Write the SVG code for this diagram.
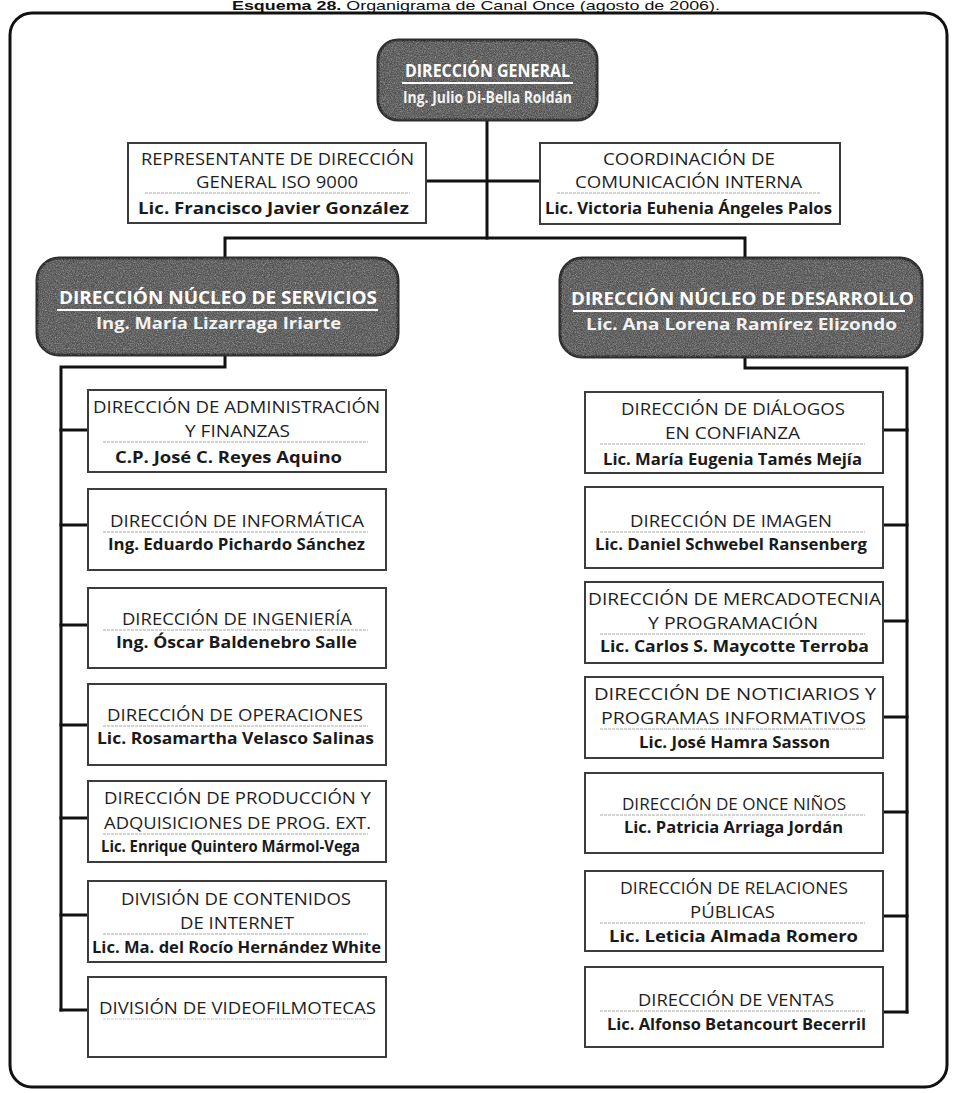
<svg xmlns="http://www.w3.org/2000/svg" width="953" height="1093" viewBox="0 0 953 1093">
  <style>
    .cap { font-family: "Liberation Sans", Arial, sans-serif; font-size: 13px; fill: #111; }
    .t { font-family: "Open Sans", "Liberation Sans", sans-serif; font-size: 16px; fill: #1e1e1e; text-anchor: middle; }
    .n { font-family: "Open Sans", "Liberation Sans", sans-serif; font-size: 16px; font-weight: 700; fill: #1a1a1a; text-anchor: middle; }
    .h { font-family: "Open Sans", "Liberation Sans", sans-serif; font-size: 18px; font-weight: 700; fill: #ffffff; text-anchor: middle; }
    .hs { font-family: "Open Sans", "Liberation Sans", sans-serif; font-size: 16px; font-weight: 700; fill: #f2f2f2; text-anchor: middle; }
    .box { fill: #ffffff; stroke: #3c3c3c; stroke-width: 2; }
    .sep { stroke: #a8a8a8; stroke-width: 1; stroke-dasharray: 3 1; fill: none; }
    .head { fill: #5e5e5e; stroke: #2e2e2e; stroke-width: 3; }
    .ul { stroke: #ffffff; stroke-width: 2; }
    .wire { fill: none; stroke: #111; stroke-width: 3; stroke-linejoin: miter; stroke-linecap: square; }
  </style>
  <defs>
    <!-- speckled texture laid over the dark header shapes -->
    <filter id="speckle" x="0" y="0" width="1" height="1">
      <feTurbulence type="fractalNoise" baseFrequency="0.85" numOctaves="3" seed="7" result="noise"/>
      <feColorMatrix in="noise" type="matrix" values="0 0 0 0 1  0 0 0 0 1  0 0 0 0 1  1.6 0 0 0 -0.6" result="spots"/>
      <feComposite in="spots" in2="SourceGraphic" operator="in"/>
    </filter>
    <filter id="specklek" x="0" y="0" width="1" height="1">
      <feTurbulence type="fractalNoise" baseFrequency="0.9" numOctaves="2" seed="21" result="noise"/>
      <feColorMatrix in="noise" type="matrix" values="0 0 0 0 0  0 0 0 0 0  0 0 0 0 0  1.6 0 0 0 -0.6" result="spots"/>
      <feComposite in="spots" in2="SourceGraphic" operator="in"/>
    </filter>
  </defs>

  <rect width="953" height="1093" fill="#ffffff"/>

  <!-- caption above the frame -->
  <text class="cap" x="476" y="10" text-anchor="middle" textLength="488" lengthAdjust="spacingAndGlyphs"><tspan font-weight="700">Esquema 28.</tspan> Organigrama de Canal Once (agosto de 2006).</text>

  <!-- outer frame -->
  <rect x="10" y="13" width="937" height="1074" rx="22" ry="22" fill="none" stroke="#111" stroke-width="3"/>

  <!-- connectors -->
  <g id="connectors">
    <path class="wire" d="M487 120 V238"/>
    <path class="wire" d="M426 181 H540"/>
    <path class="wire" d="M225 258 V238 H745 V258"/>
    <path class="wire" d="M225 355 V367 H61 V1010"/>
    <path class="wire" d="M61 430 H88 M61 525 H88 M61 625 H88 M61 725 H88 M61 818 H88 M61 915 H88 M61 1010 H88"/>
    <path class="wire" d="M745 357 V368 H907 V1012"/>
    <path class="wire" d="M883 430 H907 M883 525 H907 M883 621 H907 M883 717 H907 M883 812 H907 M883 916 H907 M883 1012 H907"/>
  </g>

  <!-- top node -->
  <g id="direccion-general">
    <rect class="head" x="378" y="40" width="219" height="80" rx="20"/>
    <rect x="378" y="40" width="219" height="80" rx="20" fill="#fff" opacity="0.45" filter="url(#speckle)"/>
    <rect x="378" y="40" width="219" height="80" rx="20" fill="#000" opacity="0.35" filter="url(#specklek)"/>
    <text class="h" x="487.5" y="77" textLength="165" lengthAdjust="spacingAndGlyphs">DIRECCIÓN GENERAL</text>
    <line class="ul" x1="402" y1="83" x2="573" y2="83"/>
    <text class="hs" x="487.5" y="103" textLength="169" lengthAdjust="spacingAndGlyphs">Ing. Julio Di-Bella Roldán</text>
  </g>

  <g id="representante-iso">
    <rect class="box" x="128" y="143" width="298" height="80"/>
    <text class="t" x="277.5" y="165" textLength="273" lengthAdjust="spacingAndGlyphs">REPRESENTANTE DE DIRECCIÓN</text>
    <text class="t" x="277" y="188" textLength="162" lengthAdjust="spacingAndGlyphs">GENERAL ISO 9000</text>
    <line class="sep" x1="145" y1="193" x2="410" y2="193"/>
    <text class="n" x="273.5" y="214" textLength="271" lengthAdjust="spacingAndGlyphs">Lic. Francisco Javier González</text>
  </g>

  <g id="comunicacion-interna">
    <rect class="box" x="540" y="143" width="300" height="81"/>
    <text class="t" x="689" y="165" textLength="172" lengthAdjust="spacingAndGlyphs">COORDINACIÓN DE</text>
    <text class="t" x="688.5" y="188" textLength="227" lengthAdjust="spacingAndGlyphs">COMUNICACIÓN INTERNA</text>
    <line class="sep" x1="557" y1="193" x2="820" y2="193"/>
    <text class="n" x="688.5" y="214" textLength="287" lengthAdjust="spacingAndGlyphs">Lic. Victoria Euhenia Ángeles Palos</text>
  </g>

  <!-- branch headers -->
  <g id="nucleo-servicios">
    <rect class="head" x="37" y="258" width="361" height="97" rx="22"/>
    <rect x="37" y="258" width="361" height="97" rx="22" fill="#fff" opacity="0.45" filter="url(#speckle)"/>
    <rect x="37" y="258" width="361" height="97" rx="22" fill="#000" opacity="0.35" filter="url(#specklek)"/>
    <text class="h" x="218" y="304" textLength="318" lengthAdjust="spacingAndGlyphs">DIRECCIÓN NÚCLEO DE SERVICIOS</text>
    <line class="ul" x1="57" y1="310" x2="378" y2="310"/>
    <text class="hs" x="218.5" y="329" textLength="245" lengthAdjust="spacingAndGlyphs">Ing. María Lizarraga Iriarte</text>
  </g>

  <g id="nucleo-desarrollo">
    <rect class="head" x="560" y="258" width="362" height="99" rx="22"/>
    <rect x="560" y="258" width="362" height="99" rx="22" fill="#fff" opacity="0.45" filter="url(#speckle)"/>
    <rect x="560" y="258" width="362" height="99" rx="22" fill="#000" opacity="0.35" filter="url(#specklek)"/>
    <text class="h" x="742.5" y="305" textLength="343" lengthAdjust="spacingAndGlyphs">DIRECCIÓN NÚCLEO DE DESARROLLO</text>
    <line class="ul" x1="573" y1="311" x2="905" y2="311"/>
    <text class="hs" x="741.5" y="330" textLength="311" lengthAdjust="spacingAndGlyphs">Lic. Ana Lorena Ramírez Elizondo</text>
  </g>

  <!-- services branch -->
  <g id="administracion-finanzas">
    <rect class="box" x="88" y="390" width="298" height="82"/>
    <text class="t" x="236.5" y="413" textLength="287" lengthAdjust="spacingAndGlyphs">DIRECCIÓN DE ADMINISTRACIÓN</text>
    <text class="t" x="237.5" y="437" textLength="105" lengthAdjust="spacingAndGlyphs">Y FINANZAS</text>
    <line class="sep" x1="103" y1="442" x2="368" y2="442"/>
    <text class="n" x="228.5" y="463" textLength="227" lengthAdjust="spacingAndGlyphs">C.P. José C. Reyes Aquino</text>
  </g>

  <g id="informatica">
    <rect class="box" x="88" y="489" width="298" height="81"/>
    <text class="t" x="237" y="527" textLength="254" lengthAdjust="spacingAndGlyphs">DIRECCIÓN DE INFORMÁTICA</text>
    <line class="sep" x1="103" y1="532" x2="368" y2="532"/>
    <text class="n" x="236.5" y="550" textLength="257" lengthAdjust="spacingAndGlyphs">Ing. Eduardo Pichardo Sánchez</text>
  </g>

  <g id="ingenieria">
    <rect class="box" x="88" y="588" width="298" height="80"/>
    <text class="t" x="237" y="625" textLength="230" lengthAdjust="spacingAndGlyphs">DIRECCIÓN DE INGENIERÍA</text>
    <line class="sep" x1="103" y1="630" x2="368" y2="630"/>
    <text class="n" x="236.5" y="648" textLength="241" lengthAdjust="spacingAndGlyphs">Ing. Óscar Baldenebro Salle</text>
  </g>

  <g id="operaciones">
    <rect class="box" x="88" y="684" width="298" height="81"/>
    <text class="t" x="235" y="721" textLength="256" lengthAdjust="spacingAndGlyphs">DIRECCIÓN DE OPERACIONES</text>
    <line class="sep" x1="103" y1="726" x2="368" y2="726"/>
    <text class="n" x="235.5" y="744" font-size="14" textLength="277" lengthAdjust="spacingAndGlyphs">Lic. Rosamartha Velasco Salinas</text>
  </g>

  <g id="produccion-adquisiciones">
    <rect class="box" x="88" y="781" width="298" height="81"/>
    <text class="t" x="237.5" y="804" textLength="267" lengthAdjust="spacingAndGlyphs">DIRECCIÓN DE PRODUCCIÓN Y</text>
    <text class="t" x="237.5" y="829" textLength="267" lengthAdjust="spacingAndGlyphs">ADQUISICIONES DE PROG. EXT.</text>
    <line class="sep" x1="103" y1="834" x2="368" y2="834"/>
    <text class="n" x="230.5" y="852" font-size="14" textLength="259" lengthAdjust="spacingAndGlyphs">Lic. Enrique Quintero Mármol-Vega</text>
  </g>

  <g id="contenidos-internet">
    <rect class="box" x="88" y="881" width="298" height="81"/>
    <text class="t" x="236" y="905" textLength="230" lengthAdjust="spacingAndGlyphs">DIVISIÓN DE CONTENIDOS</text>
    <text class="t" x="237" y="929" textLength="114" lengthAdjust="spacingAndGlyphs">DE INTERNET</text>
    <line class="sep" x1="103" y1="934" x2="368" y2="934"/>
    <text class="n" x="236.5" y="953" textLength="289" lengthAdjust="spacingAndGlyphs">Lic. Ma. del Rocío Hernández White</text>
  </g>

  <g id="videofilmotecas">
    <rect class="box" x="88" y="977" width="298" height="80"/>
    <text class="t" x="237.5" y="1014" textLength="277" lengthAdjust="spacingAndGlyphs">DIVISIÓN DE VIDEOFILMOTECAS</text>
    <line class="sep" x1="103" y1="1019" x2="368" y2="1019" opacity="0.6"/>
  </g>

  <!-- development branch -->
  <g id="dialogos-confianza">
    <rect class="box" x="585" y="392" width="298" height="81"/>
    <text class="t" x="733" y="415" textLength="224" lengthAdjust="spacingAndGlyphs">DIRECCIÓN DE DIÁLOGOS</text>
    <text class="t" x="732.5" y="439" textLength="135" lengthAdjust="spacingAndGlyphs">EN CONFIANZA</text>
    <line class="sep" x1="600" y1="444" x2="865" y2="444"/>
    <text class="n" x="732.5" y="465" textLength="259" lengthAdjust="spacingAndGlyphs">Lic. María Eugenia Tamés Mejía</text>
  </g>

  <g id="imagen">
    <rect class="box" x="585" y="487" width="298" height="81"/>
    <text class="t" x="731" y="527" textLength="202" lengthAdjust="spacingAndGlyphs">DIRECCIÓN DE IMAGEN</text>
    <line class="sep" x1="600" y1="532" x2="865" y2="532"/>
    <text class="n" x="731" y="550" textLength="272" lengthAdjust="spacingAndGlyphs">Lic. Daniel Schwebel Ransenberg</text>
  </g>

  <g id="mercadotecnia-programacion">
    <rect class="box" x="585" y="582" width="298" height="81"/>
    <text class="t" x="734.5" y="605" textLength="293" lengthAdjust="spacingAndGlyphs">DIRECCIÓN DE MERCADOTECNIA</text>
    <text class="t" x="733" y="629" textLength="170" lengthAdjust="spacingAndGlyphs">Y PROGRAMACIÓN</text>
    <line class="sep" x1="600" y1="634" x2="865" y2="634"/>
    <text class="n" x="734.5" y="652" textLength="269" lengthAdjust="spacingAndGlyphs">Lic. Carlos S. Maycotte Terroba</text>
  </g>

  <g id="noticiarios">
    <rect class="box" x="585" y="677" width="298" height="81"/>
    <text class="t" x="735" y="700" textLength="282" lengthAdjust="spacingAndGlyphs">DIRECCIÓN DE NOTICIARIOS Y</text>
    <text class="t" x="733.5" y="724" textLength="265" lengthAdjust="spacingAndGlyphs">PROGRAMAS INFORMATIVOS</text>
    <line class="sep" x1="600" y1="729" x2="865" y2="729"/>
    <text class="n" x="734.5" y="748" textLength="191" lengthAdjust="spacingAndGlyphs">Lic. José Hamra Sasson</text>
  </g>

  <g id="once-ninos">
    <rect class="box" x="585" y="773" width="298" height="80"/>
    <text class="t" x="734" y="810" textLength="224" lengthAdjust="spacingAndGlyphs">DIRECCIÓN DE ONCE NIÑOS</text>
    <line class="sep" x1="600" y1="815" x2="865" y2="815"/>
    <text class="n" x="733.5" y="833" font-size="15" textLength="219" lengthAdjust="spacingAndGlyphs">Lic. Patricia Arriaga Jordán</text>
  </g>

  <g id="relaciones-publicas">
    <rect class="box" x="585" y="871" width="298" height="80"/>
    <text class="t" x="734" y="894" textLength="228" lengthAdjust="spacingAndGlyphs">DIRECCIÓN DE RELACIONES</text>
    <text class="t" x="732.5" y="918" textLength="85" lengthAdjust="spacingAndGlyphs">PÚBLICAS</text>
    <line class="sep" x1="600" y1="923" x2="865" y2="923"/>
    <text class="n" x="733.5" y="942" textLength="249" lengthAdjust="spacingAndGlyphs">Lic. Leticia Almada Romero</text>
  </g>

  <g id="ventas">
    <rect class="box" x="585" y="967" width="298" height="80"/>
    <text class="t" x="736" y="1006" textLength="196" lengthAdjust="spacingAndGlyphs">DIRECCIÓN DE VENTAS</text>
    <line class="sep" x1="600" y1="1011" x2="865" y2="1011"/>
    <text class="n" x="736.5" y="1030" textLength="259" lengthAdjust="spacingAndGlyphs">Lic. Alfonso Betancourt Becerril</text>
  </g>
</svg>
